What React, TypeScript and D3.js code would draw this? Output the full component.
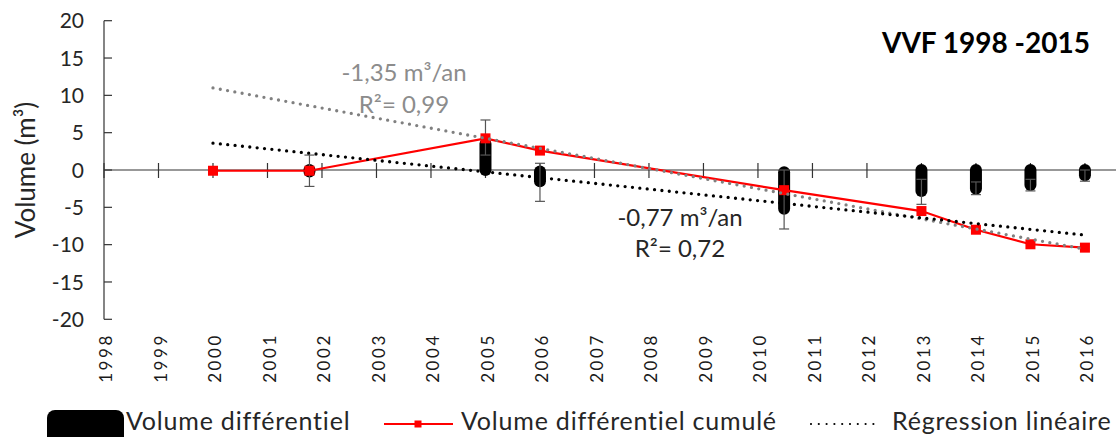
import React from 'react';
import * as d3 from 'd3';

// ---------- data ----------
const yearTicks = [1998, 1999, 2000, 2001, 2002, 2003, 2004, 2005, 2006, 2007, 2008, 2009, 2010, 2011, 2012, 2013, 2014, 2015, 2016];
const yTicks = [-20, -15, -10, -5, 0, 5, 10, 15, 20];

// Volume différentiel cumulé (red line)
const cumYears = [2000, 2001.77, 2005, 2006, 2010.48, 2013, 2014, 2015, 2016];
const cumValues = [-0.1, -0.1, 4.24, 2.6, -2.7, -5.5, -8.0, -9.95, -10.4];

// Volume différentiel (black stacked markers: range of values per survey)
const diffYears = [2001.77, 2005, 2006, 2010.48, 2013, 2014, 2015, 2016];
const diffTop = [0, 3.5, -0.2, -0.3, 0, 0, 0, 0];
const diffBottom = [-0.2, 0, -1.5, -5.2, -2.8, -2.5, -2.0, -0.7];
const errHigh = [2.0, 6.7, 0.9, 0, -1.25, -1.6, -1.25, 0];
const errLow = [-2.2, 2.0, -4.2, -7.9, -4.6, -3.3, -2.8, -1.5];

// Linear regressions
const regColors = ['#808080', '#000000'];
const regSlope = [-1.35, -0.77];
const regAt2000 = [11.0, 3.6];
const regFrom = [2000, 2000];
const regTo = [2016, 2016];
const regLabel1 = ['-1,35 m³/an', '-0,77 m³/an'];
const regLabel2 = ['R²= 0,99', 'R²= 0,72'];

const legendLabels = ['Volume différentiel', 'Volume différentiel cumulé', 'Régression linéaire'];
const titleText = 'VVF 1998 -2015';

// ---------- layout ----------
const W = 1117;
const H = 437;
const FONT = 'Lato, "Open Sans", sans-serif';

export default function App() {
  const x = d3.scaleLinear().domain([1998, 2016.57]).range([104, 1116]);
  const y = d3.scaleLinear().domain([-20, 20]).range([319.3, 20.7]);
  const y0 = y(0);

  const redLine = d3
    .line<number>()
    .x((_, i) => x(cumYears[i]))
    .y((d) => y(d));

  const annPos = [
    { cx: 404, b1: 81, b2: 113, color: '#8c8c8c' },
    { cx: 680, b1: 226, b2: 257, color: '#262626' },
  ];

  return (
    <div style={{ position: 'absolute', left: 0, top: 0 }}>
      <svg width={W} height={H} style={{ display: 'block', fontFamily: FONT }}>
        <rect x={0} y={0} width={W} height={H} fill="#fff" />

        {/* Y axis */}
        <line x1={x(1998)} x2={x(1998)} y1={y(20)} y2={y(-20)} stroke="#333" strokeWidth={1.2} />
        {yTicks.map((t) => (
          <g key={'yt' + t}>
            <line x1={x(1998)} x2={x(1998) + 8} y1={y(t)} y2={y(t)} stroke="#333" strokeWidth={1.2} />
            <text x={84} y={y(t)} dy="0.36em" textAnchor="end" fontSize={21} fill="#262626">
              {t}
            </text>
          </g>
        ))}

        {/* X axis at zero */}
        <line x1={x(1998)} x2={x.range()[1]} y1={y0} y2={y0} stroke="#333" strokeWidth={1.2} />
        {yearTicks.map((t) => (
          <g key={'xt' + t}>
            <line x1={x(t)} x2={x(t)} y1={y0 - 7} y2={y0 + 8} stroke="#333" strokeWidth={1.2} />
            <text
              transform={`translate(${x(t) + 2},333) rotate(-90)`}
              textAnchor="end"
              dy="0.36em"
              fontSize={17}
              letterSpacing={2.6}
              fill="#1a1a1a"
            >
              {t}
            </text>
          </g>
        ))}

        {/* Y axis title */}
        <text
          transform={`translate(26,${y0}) rotate(-90)`}
          textAnchor="middle"
          dy="0.36em"
          fontSize={26}
          fill="#262626"
        >
          Volume (m³)
        </text>

        {/* Volume différentiel: stacked black markers */}
        {diffYears.map((yr, i) => (
          <line
            key={'dc' + i}
            x1={x(yr)}
            x2={x(yr)}
            y1={y(diffTop[i])}
            y2={y(diffBottom[i]) + 0.01}
            stroke="#000"
            strokeWidth={12}
            strokeLinecap="round"
          />
        ))}
        {/* error bars */}
        {diffYears.map((yr, i) => (
          <g key={'eb' + i} stroke="#555" strokeWidth={1.2}>
            <line x1={x(yr)} x2={x(yr)} y1={y(errHigh[i])} y2={y(errLow[i])} />
            <line x1={x(yr) - 5} x2={x(yr) + 5} y1={y(errHigh[i])} y2={y(errHigh[i])} />
            <line x1={x(yr) - 5} x2={x(yr) + 5} y1={y(errLow[i])} y2={y(errLow[i])} />
          </g>
        ))}

        {/* Volume différentiel cumulé */}
        <path d={redLine(cumValues) || ''} fill="none" stroke="#ff0000" strokeWidth={2.2} />
        {cumValues.map((v, i) => (
          <rect key={'rm' + i} x={x(cumYears[i]) - 5} y={y(v) - 5} width={10} height={10} fill="#ff0000" />
        ))}

        {/* Regression lines */}
        {regSlope.map((s, i) => (
          <line
            key={'rg' + i}
            x1={x(regFrom[i])}
            x2={x(regTo[i])}
            y1={y(regAt2000[i] + s * (regFrom[i] - 2000))}
            y2={y(regAt2000[i] + s * (regTo[i] - 2000))}
            stroke={regColors[i]}
            strokeWidth={3.3}
            strokeDasharray="0 7.4"
            strokeLinecap="round"
          />
        ))}

        {/* Regression annotations */}
        {annPos.map((p, i) => (
          <g key={'an' + i} fill={p.color} fontSize={24} textAnchor="middle">
            <text x={p.cx} y={p.b1}>{regLabel1[i]}</text>
            <text x={p.cx} y={p.b2}>{regLabel2[i]}</text>
          </g>
        ))}

        {/* Title */}
        <text x={1090} y={53} textAnchor="end" fontSize={28} fontWeight="bold" fill="#000">
          {titleText}
        </text>

        {/* Legend */}
        <g fontSize={25} fill="#262626" letterSpacing={0.8}>
          <rect x={47} y={410} width={77} height={34} rx={8} fill="#000" />
          <text x={126} y={430}>{legendLabels[0]}</text>
          <line x1={384} x2={453} y1={424} y2={424} stroke="#ff0000" strokeWidth={2.2} />
          <rect x={414.5} y={420.5} width={7} height={7} fill="#ff0000" />
          <text x={461} y={430}>{legendLabels[1]}</text>
          <line x1={811} x2={881} y1={424} y2={424} stroke="#000" strokeWidth={2.2} strokeDasharray="0 7.8" strokeLinecap="round" />
          <text x={892} y={430}>{legendLabels[2]}</text>
        </g>
      </svg>
    </div>
  );
}
